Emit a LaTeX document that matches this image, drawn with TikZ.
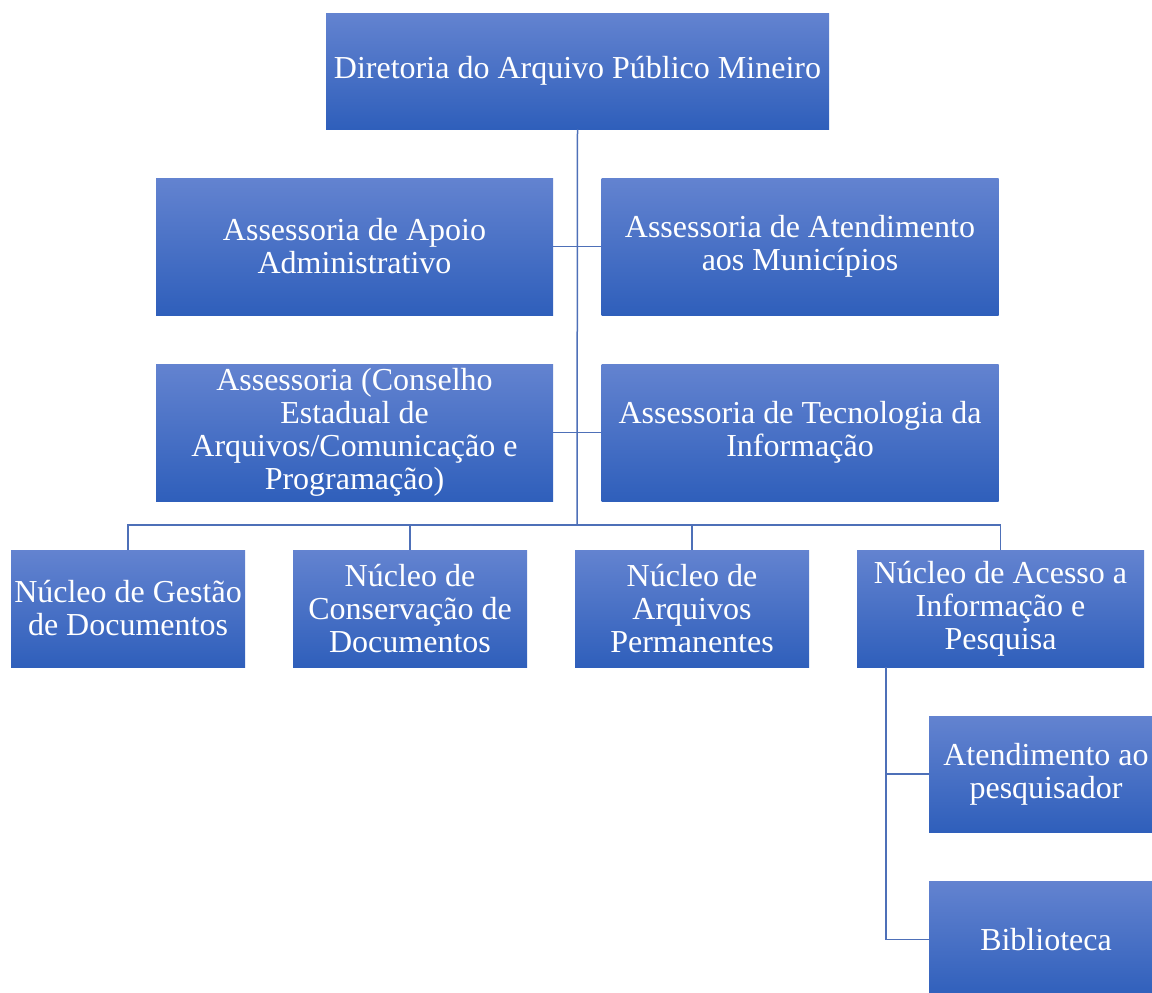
\documentclass[tikz,border=0pt]{standalone}
\usepackage{fontspec}
\setmainfont{Liberation Serif}
\usetikzlibrary{positioning}
\definecolor{boxtop}{RGB}{99,131,208}
\definecolor{boxbottom}{RGB}{47,95,187}
\definecolor{linkblue}{RGB}{78,112,184}

\begin{document}
\begin{tikzpicture}[x=0.5pt,y=-0.5pt,
  unit/.style = {shape=rectangle, align=center, text=white,
    top color=boxtop, bottom color=boxbottom, inner sep=0pt,
    font=\fontsize{16}{16.5}\selectfont},
  wide/.style = {unit, minimum width=198.5pt, minimum height=68.5pt},
  core/.style = {unit, minimum width=117pt, minimum height=58.5pt},
  link/.style = {draw=linkblue, line width=0.75pt}]
  \useasboundingbox (0,0) rectangle (1152,992);
  \node[unit, minimum width=251.5pt, minimum height=58pt] (dir) at (577.5,71)
    {Diretoria do Arquivo Público Mineiro};
  \node[wide] (apoio) at (354.5,246.5) {Assessoria de Apoio\\Administrativo};
  \node[wide] (munic) at (800,246.5) {Assessoria de Atendimento\\aos Municípios};
  \node[wide] (conselho) at (354.5,432.5)
    {Assessoria (Conselho\\Estadual de\\Arquivos/Comunicação e\\Programação)};
  \node[wide] (tecno) at (800,432.5) {Assessoria de Tecnologia da\\Informação};
  \node[core] (gestao) at (128,608.5) {Núcleo de Gestão\\de Documentos};
  \node[core] (conserva) at (410,608.5) {Núcleo de\\Conservação de\\Documentos};
  \node[core] (perma) at (692,608.5) {Núcleo de\\Arquivos\\Permanentes};
  \node[core, minimum width=143.5pt] (acesso) at (1000.5,608.5)
    {Núcleo de Acesso a\\Informação e\\Pesquisa};
  \node[core, minimum height=58pt] (pesq) at (1046,774) {Atendimento ao\\pesquisador};
  \node[core] (biblio) at (1046,939.5) {Biblioteca};
  \coordinate (bus) at (577,525);
  \coordinate (tap) at (886,667);
  \draw[link] (dir.south) -- (bus);
  \draw[link] (apoio.east) -- (munic.west);
  \draw[link] (conselho.east) -- (tecno.west);
  \foreach \n in {gestao,conserva,perma,acesso}
    \draw[link] (bus) -| (\n.north);
  \draw[link] (tap) |- (pesq.west);
  \draw[link] (tap) |- (biblio.west);
\end{tikzpicture}
\end{document}
